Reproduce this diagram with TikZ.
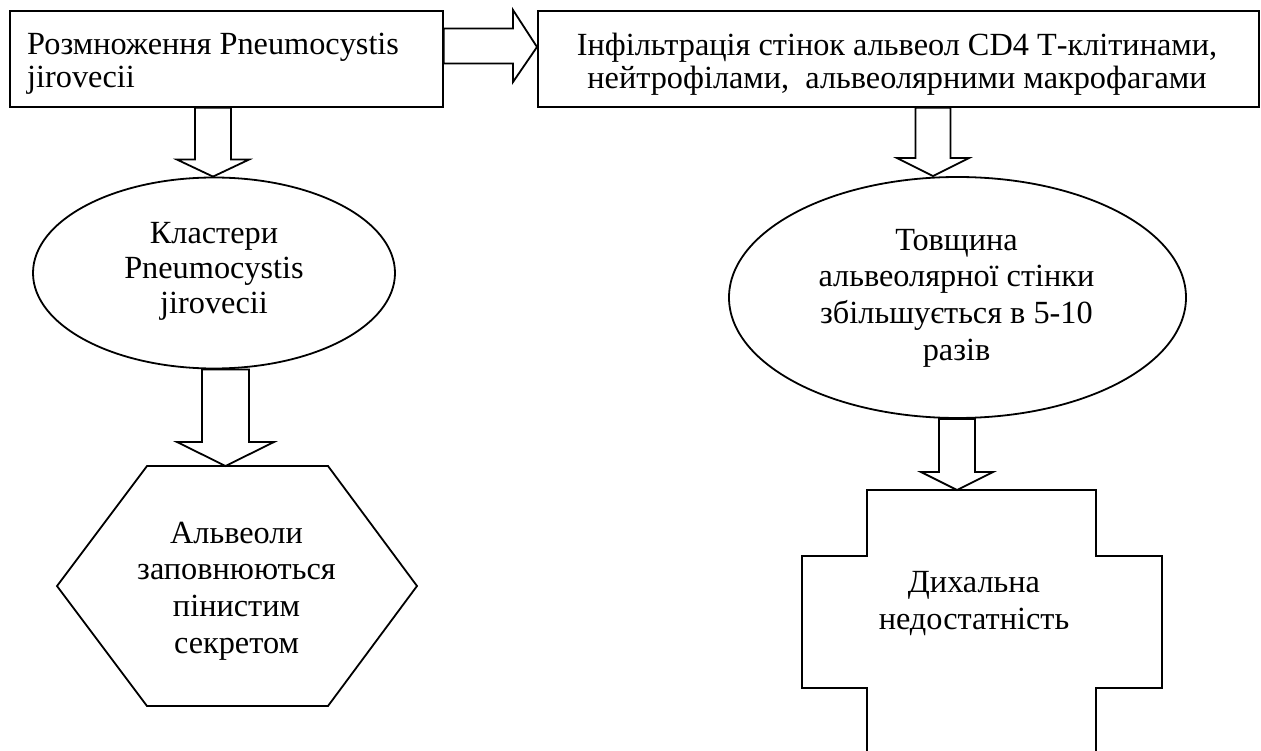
\documentclass[tikz,border=0pt]{standalone}
\usepackage{fontspec}
\setmainfont{Liberation Serif}
\usetikzlibrary{shapes.geometric,calc}
\tikzset{
  shp/.style={draw, line width=1.8pt, line join=miter, inner sep=0pt},
  blk/.style={draw, line width=1.8pt, line join=miter},
  txt/.style={font=\fontsize{32.3}{36.7}\selectfont, inner sep=0pt, align=center},
  boxtxt/.style={font=\fontsize{32.3}{33}\selectfont, inner sep=0pt},
}
% vertical block arrow: #1 x-coordinate, #2 from, #3 to, #4 half shaft, #5 half head, #6 head length
\newcommand{\vblk}[6]{%
  \draw[blk] let \p1=(#1|-#2), \p2=(#1|-#3) in
    (\x1-#4pt,\y1) -- (\x1-#4pt,\y2+#6pt) -- (\x1-#5pt,\y2+#6pt) -- (\x2,\y2)
    -- (\x1+#5pt,\y2+#6pt) -- (\x1+#4pt,\y2+#6pt) -- (\x1+#4pt,\y1) -- cycle;}
\begin{document}
\begin{tikzpicture}[x=1pt,y=-1pt]
\useasboundingbox (0,0) rectangle (1261,751);
\clip (0,0) rectangle (1261,751);
\fill[white] (0,0) rectangle (1261,751);

% top boxes
\node[shp, rectangle, minimum width=433, minimum height=96, anchor=north west] (b1) at (9,10) {};
\node[shp, rectangle, minimum width=721, minimum height=96, anchor=north west] (b2) at (537,10) {};
\node[boxtxt, align=left, anchor=west] (t1) at (27,64) {Розмноження Pneumocystis\\jirovecii};
\node[boxtxt, align=center] (t2) at (897,64) {Інфільтрація стінок альвеол CD4 Т-клітинами,\\нейтрофілами,\ \ альвеолярними макрофагами};

% ellipses
\node[shp, ellipse, minimum width=362, minimum height=191] (e1) at (214,273) {};
\node[txt, font=\fontsize{32.3}{35}\selectfont] (te1) at (214,271) {Кластери\\Pneumocystis\\jirovecii};
\node[shp, ellipse, minimum width=457, minimum height=241] (e2) at (957.5,297.5) {};
\node[txt] (te2) at (956.5,298) {Товщина\\альвеолярної стінки\\збільшується в 5-10\\разів};

% hexagon
\coordinate (hex) at (237,586);
\coordinate (hexN) at (237,466);
\draw[shp] (147,466) -- (328,466) -- (417,586) -- (328,706) -- (147,706) -- (57,586) -- cycle;
\node[txt] (th) at (236.5,591) {Альвеоли\\заповнюються\\пінистим\\секретом};

% cross shape
\coordinate (cr) at (982,620);
\coordinate (crN) at (982,490);
\draw[shp] (867,490) -- (1096,490) -- (1096,556) -- (1162,556) -- (1162,688) -- (1096,688)
  -- (1096,820) -- (867,820) -- (867,688) -- (802,688) -- (802,556) -- (867,556) -- cycle;
\node[txt] (tc) at (974,603.5) {Дихальна\\недостатність};

% arrow positions
\coordinate (a1) at (213,0);
\coordinate (a2) at (225.5,0);
\coordinate (a3) at (933,0);
\coordinate (a4) at (957,0);
\coordinate (ah) at (0,46);

% horizontal block arrow
\draw[blk] let \p1=(b1.east|-ah), \p2=(b2.west|-ah) in
  (\x1,\y1+17.5pt) -- (\x2-24pt,\y1+17.5pt) -- (\x2-24pt,\y1+36pt) -- (\x2,\y1-1pt)
  -- (\x2-24pt,\y1-36pt) -- (\x2-24pt,\y1-17.5pt) -- (\x1,\y1-17.5pt) -- cycle;

% vertical block arrows
\vblk{a1}{b1.south}{e1.north}{18}{36}{17}
\vblk{a2}{e1.south}{hexN}{23.5}{48.5}{24}
\vblk{a3}{b2.south}{e2.north}{17.5}{36}{18}
\vblk{a4}{e2.south}{crN}{18}{36}{18}
\end{tikzpicture}
\end{document}
